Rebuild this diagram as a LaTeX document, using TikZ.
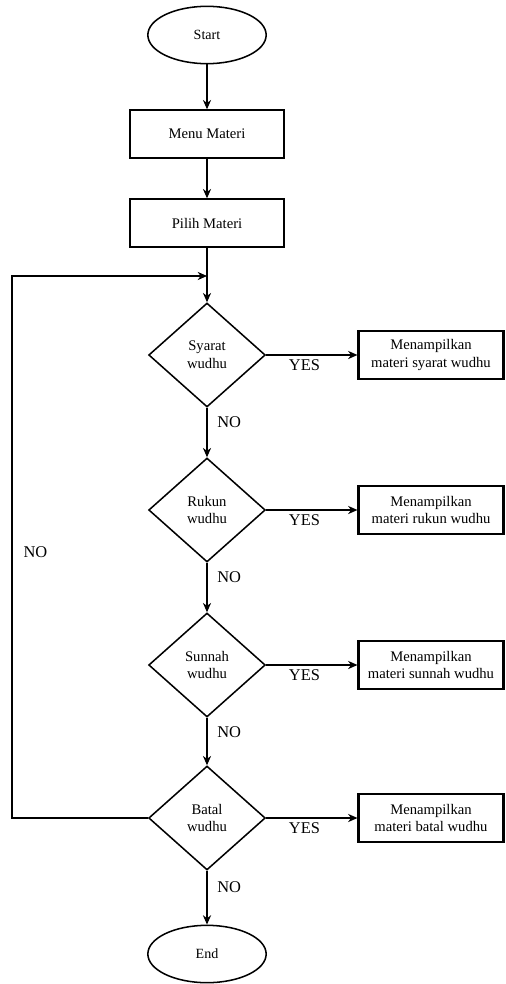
\documentclass[tikz,border=0pt]{standalone}
\usepackage{fontspec}
\setmainfont{Liberation Serif}
\usetikzlibrary{arrows.meta,shapes.geometric}
\tikzset{>={Stealth[length=8pt,width=7pt]}}
\tikzset{
  terminal/.style={ellipse,draw,line width=1.3pt,minimum width=3.55cm,minimum height=1.72cm,font=\fontsize{12}{14}\selectfont},
  process/.style={rectangle,draw,line width=1.8pt,minimum width=4.6cm,minimum height=1.42cm,font=\fontsize{12.5}{15}\selectfont},
  decision/.style={diamond,draw,line width=1.3pt,minimum width=3.5cm,minimum height=3.12cm,inner sep=0pt,align=center,font=\fontsize{12.5}{15}\selectfont},
  output/.style={rectangle,draw,line width=1.8pt,minimum width=4.35cm,minimum height=1.42cm,align=center,font=\fontsize{12.5}{15}\selectfont},
  flow/.style={->,line width=1pt},
  answer/.style={font=\fontsize{14}{16}\selectfont}
}

\begin{document}
\begin{tikzpicture}[x=0.03cm,y=-0.03cm]
\useasboundingbox (0,0) rectangle (505,984);
\node (start) [terminal] at (207,35) {Start};
\node (menu) [process] at (207,134) {Menu Materi};
\node (pilih) [process] at (207,223) {Pilih Materi};
\coordinate (join) at (207,276);
\node (syarat) [decision] at (207,355) {Syarat\\wudhu};
\node (rukun) [decision] at (207,510) {Rukun\\wudhu};
\node (sunnah) [decision] at (207,665) {Sunnah\\wudhu};
\node (batal) [decision] at (207,818) {Batal\\wudhu};
\node (end) [terminal] at (207,954) {End};
\node (msyarat) [output] at (431,355) {Menampilkan\\materi syarat wudhu};
\node (mrukun) [output] at (431,510) {Menampilkan\\materi rukun wudhu};
\node (msunnah) [output] at (431,665) {Menampilkan\\materi sunnah wudhu};
\node (mbatal) [output] at (431,818) {Menampilkan\\materi batal wudhu};
\coordinate (loopbot) at (12,818);
\coordinate (looptop) at (12,276);

\draw[flow] (start) -- (menu);
\draw[flow] (menu) -- (pilih);
\draw[flow] (pilih) -- (syarat);
\draw[flow] (syarat) -- node[answer,right=5pt,pos=.3] {NO} (rukun);
\draw[flow] (rukun) -- node[answer,right=5pt,pos=.3] {NO} (sunnah);
\draw[flow] (sunnah) -- node[answer,right=5pt,pos=.3] {NO} (batal);
\draw[flow] (batal) -- node[answer,right=5pt,pos=.3] {NO} (end);
\draw[flow] (syarat.east) -- node[answer,below,pos=.42] {YES} (msyarat.west);
\draw[flow] (rukun.east) -- node[answer,below,pos=.42] {YES} (mrukun.west);
\draw[flow] (sunnah.east) -- node[answer,below,pos=.42] {YES} (msunnah.west);
\draw[flow] (batal.east) -- node[answer,below,pos=.42] {YES} (mbatal.west);
\draw[flow] (batal.west) -- (loopbot) -- node[answer,right=6pt,pos=.49] {NO} (looptop) -- (join);
\end{tikzpicture}
\end{document}
